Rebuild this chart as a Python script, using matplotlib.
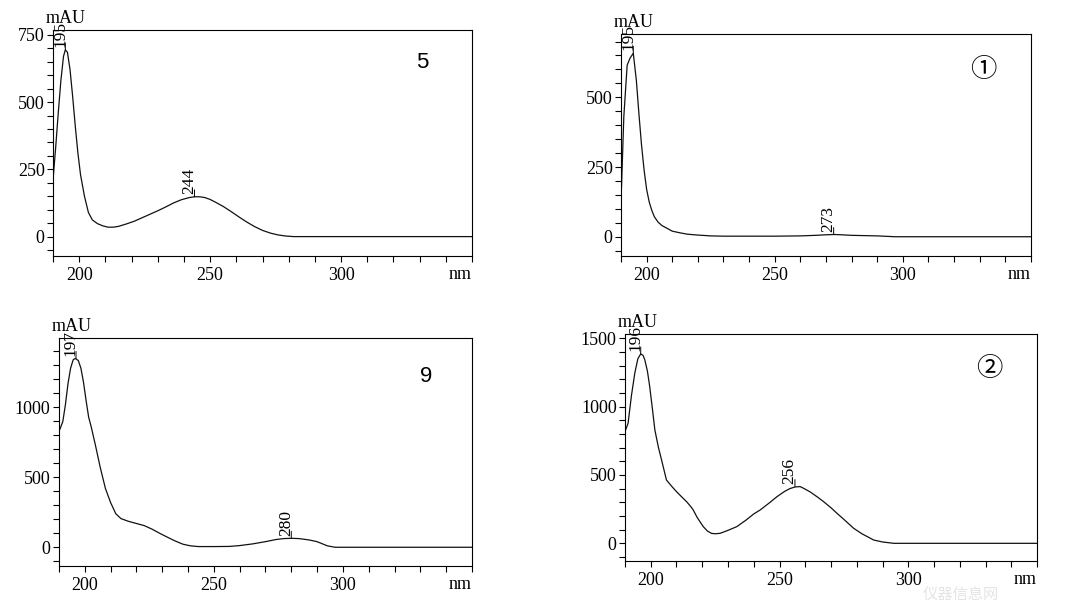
import matplotlib
matplotlib.use('Agg')
import matplotlib.pyplot as plt
from matplotlib.ticker import MultipleLocator

# spectrum "5"
wl5 = [190, 191, 192, 193, 194, 194.7, 195.5, 196.5, 197.5, 198.5, 199.5, 200.5, 202, 203.5, 205, 207, 209, 211,
       213, 215, 218, 221, 224, 227, 230, 233, 236, 239, 242, 244, 246, 248, 250, 252, 255, 258, 261, 264, 267,
       270, 273, 276, 279, 282, 290, 300, 320, 350]
abs5 = [211, 330, 460, 580, 670, 694, 685, 620, 520, 410, 310, 230, 150, 90, 62, 48, 40, 35,
        35, 38, 47, 57, 70, 83, 96, 110, 125, 137, 145, 148, 148, 145, 138, 128, 112, 93, 73, 54, 37,
        23, 13, 6, 2, 0, 0, 0, 0, 0]

# spectrum "1"
wl1 = [190.2, 191.1, 192.4, 193.5, 194.8, 196, 197, 198, 199, 200, 201, 202, 203, 204.5, 206, 208, 210, 213,
       216, 220, 225, 230, 240, 250, 260, 266, 270, 273, 276, 280, 290, 297, 310, 350]
abs1 = [179, 430, 615, 640, 658, 560, 440, 330, 240, 170, 125, 95, 72, 52, 40, 30, 20, 14,
        9, 6, 3, 2, 2, 2, 3, 5, 7, 8, 7, 5, 3, 0, 0, 0]

# spectrum "9"
wl9 = [189.5, 190.5, 191.5, 192.5, 193.5, 194.5, 195.5, 196.3, 197.5, 198.5, 199.5, 200.5, 201.5, 202.5, 204,
       206, 208, 210, 212, 214, 217, 220, 223, 226, 229, 232, 235, 238, 241, 244, 250, 256, 260, 265, 270, 274,
       277, 280, 283, 287, 290, 292, 294, 297, 310, 350]
abs9 = [814, 850, 900, 1020, 1170, 1280, 1340, 1350, 1335, 1280, 1180, 1050, 930, 860, 740,
        570, 420, 320, 240, 205, 185, 170, 155, 130, 100, 72, 45, 22, 10, 5, 5, 6, 12, 24, 40, 55,
        62, 64, 62, 52, 40, 25, 10, 0, 0, 0]

# spectrum "2"
wl2 = [190, 191.2, 192.5, 193.8, 195, 196.1, 197, 197.7, 198.7, 199.6, 200.6, 201.6, 203, 204.2, 206.1, 208,
       210, 212, 213.9, 215.5, 216.5, 218, 220.4, 222, 223.6, 225, 226.9, 230, 233.4, 237, 240, 242.5, 246,
       249, 252, 254, 256, 258, 259.4, 262, 265, 267.1, 270, 272.3, 275, 278.8, 282, 286.6, 290, 294.4, 310, 350]
abs2 = [817, 878, 1080, 1244, 1350, 1385, 1375, 1341, 1260, 1146, 990, 829, 700, 610, 463, 420,
        378, 340, 305, 270, 244, 190, 122, 90, 73, 70, 73, 95, 122, 170, 215, 244, 295,
        341, 380, 400, 412, 415, 402, 375, 335, 305, 260, 220, 175, 110, 70, 24, 10, 0, 0, 0]

serif = 'Liberation Serif'

fig = plt.figure(figsize=(10.8, 6.06), dpi=100)
fig.patch.set_facecolor('white')


def panel(rect, wl, ab, ylim, major, minor, peaks, tag, tagpos, tagfont):
    ax = fig.add_axes(rect)
    ax.plot(wl, ab, color='#111111', lw=0.9)
    ax.set_xlim(190, 350)
    ax.set_ylim(*ylim)
    ax.xaxis.set_major_locator(MultipleLocator(50))
    ax.xaxis.set_minor_locator(MultipleLocator(10))
    ax.yaxis.set_major_locator(MultipleLocator(major))
    ax.yaxis.set_minor_locator(MultipleLocator(minor))
    ax.tick_params(which='both', direction='out', length=4, width=0.8, labelsize=13, pad=2)
    ax.tick_params(axis='x', which='both', pad=4)
    xt = [t for t in ax.get_xticks() if 195 < t < 345]
    ax.set_xticks(xt)
    for lab in ax.get_xticklabels() + ax.get_yticklabels():
        lab.set_fontfamily(serif)
    for s in ax.spines.values():
        s.set_linewidth(0.8)
    ax.text(-0.017, 1.012, 'mAU', transform=ax.transAxes, fontsize=13, family=serif,
            ha='left', va='bottom')
    ax.text(1.0, -0.045, 'nm', transform=ax.transAxes, fontsize=13, family=serif,
            ha='right', va='top')
    for px, py in peaks:
        ax.annotate('', xy=(px, py), xytext=(0, 5), textcoords='offset points',
                    arrowprops=dict(arrowstyle='-', lw=0.7, color='black', shrinkA=0, shrinkB=0))
        ax.annotate(str(int(round(px))), xy=(px, py), xytext=(2, 2), textcoords='offset points',
                    rotation=90, ha='right', va='bottom', fontsize=12.5, family=serif,
                    annotation_clip=False)
    ax.text(tagpos[0], tagpos[1], tag, transform=ax.transAxes, fontsize=tagfont[1],
            family=tagfont[0], ha='center', va='center')
    return ax


panel([0.0491, 0.5776, 0.388, 0.373], wl5, abs5, (-72, 768), 250, 50,
      [(194.7, 694), (244, 148)], '5', (0.882, 0.856), (['Liberation Sans'], 16))
panel([0.575, 0.5776, 0.3796, 0.3663], wl1, abs1, (-69, 727), 250, 50,
      [(194.8, 658), (273, 8)], '\u2460', (0.883, 0.838), (['Noto Sans CJK SC', 'DejaVu Sans'], 19))
panel([0.0546, 0.066, 0.3824, 0.376], wl9, abs9, (-134, 1495), 500, 100,
      [(196.6, 1350), (280, 64)], '9', (0.889, 0.833), (['Liberation Sans'], 16))
panel([0.5787, 0.0743, 0.3815, 0.3746], wl2, abs2, (-129, 1531), 500, 100,
      [(196.1, 1385), (256, 415)], '\u2461', (0.883, 0.85), (['Noto Sans CJK SC', 'DejaVu Sans'], 19))

# faint watermark, kept clear of the tick labels
fig.text(0.925, 0.004, '仪器信息网', fontsize=11, color='#e4e4e4', ha='right', va='bottom',
         family=['Noto Sans CJK SC', 'DejaVu Sans'], zorder=0)

fig.savefig('out.png', dpi=100, facecolor='white')
